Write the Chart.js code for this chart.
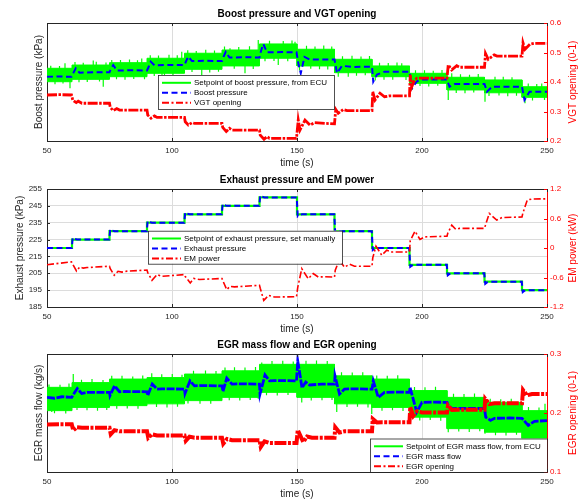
<!DOCTYPE html>
<html>
<head>
<meta charset="utf-8">
<title>Boost, exhaust and EGR loops</title>
<script src="https://cdn.jsdelivr.net/npm/chart.js@4.4.1/dist/chart.umd.min.js"></script>
<style>
  body { margin: 0; background: #fff; }
  #wrap { position: relative; width: 580px; height: 502px; background: #fff; }
  #wrap canvas { position: absolute; left: 0; }
</style>
</head>
<body>
<div id="wrap">
  <canvas id="boost" width="580" height="170" style="top:0"></canvas>
  <canvas id="exhaust" width="580" height="170" style="top:166px"></canvas>
  <canvas id="egr" width="580" height="170" style="top:331px"></canvas>
</div>
<script>
// setpoint steps, one value per interval between consecutive times
const stepTimes = [50, 60, 75, 90, 105, 120, 135, 150, 165, 180, 195, 210, 225, 240, 250];

// boost pressure loop (kPa) and VGT opening (0-1)
const boostSetLo = [160.2, 161.8, 163.6, 165.9, 168.6, 170.9, 176.1, 170.9, 166.3, 163.6, 159.1, 154.6, 152.7, 149.6];
const boostSetHi = [169.3, 171.5, 173.1, 176.1, 179.5, 181.7, 185.8, 182.2, 175.4, 170.9, 165.9, 163.2, 161.4, 156.8];
const boostSpikeT = [
  51.5, 53.2, 55.0, 56.4, 57.2, 59.2, 61.2, 62.8, 64.5, 66.1, 68.5, 69.7, 71.0, 72.5, 73.6,
  75.9, 77.8, 79.4, 81.2, 83.0, 84.7, 86.2, 87.9, 89.0, 91.3, 92.9, 94.6, 96.0, 97, 98.8,
  100.4, 102.1, 103.9, 106.3, 108.0, 109.7, 111.9, 113.5, 115.1, 117.0, 118.6, 121.0, 123.2,
  124.9, 126.7, 129.2, 131.0, 132.5, 134.5, 137.2, 139.0, 140.8, 142.5, 144.5, 146.3, 148.0,
  149.2, 151.0, 153.8, 155.5, 157.2, 159.0, 160.7, 162.3, 163.9, 166.5, 168.2, 170.5, 172.0,
  173.8, 175.6, 177.3, 179.0, 181.3, 183.0, 184.8, 186.5, 188.3, 190.0, 191.9, 193.6, 196,
  197.4, 199.2, 201.0, 202.7, 204.5, 206.3, 208.0, 210.5, 211.9, 213.7, 215.4, 217.2, 219.0,
  220.7, 222.5, 225.2, 226.8, 229.2, 230.8, 232.5, 234.3, 236.0, 237.8, 241.2, 242.5, 244.2,
  245.9, 247.9, 249.0,
];
const boostSpikeTip = [
  171.0, 158.5, 170.8, 158.9, 172.7, 155.7, 173.5, 159.8, 173.0, 160.0, 174.5, 173.8, 160.4, 156.8, 173.2,
  174.9, 161.8, 175.0, 161.5, 175.3, 162.0, 174.8, 176.0, 161.9, 178.2, 164.0, 178.0, 164.2, 162.5, 178.5,
  163.9, 178.1, 180.5, 181.5, 166.8, 181.0, 164.7, 181.8, 166.5, 181.4, 167.0, 184.0, 182.8,
  169.0, 183.8, 165.9, 184.3, 168.8, 188.5, 174.0, 188.0, 174.3, 171.5, 187.8, 174.0, 188.2,
  187.3, 167.8, 184.5, 168.9, 184.0, 168.7, 184.8, 168.5, 184.0, 163.5, 177.5, 163.6, 177.8,
  164.2, 177.3, 164.5, 177.6, 161.0, 173.0, 161.5, 172.8, 161.6, 173.2, 172.7, 161.3, 154.6,
  167.9, 157.3, 168.0, 157.0, 167.6, 157.4, 168.2, 147.8, 165.9, 152.5, 165.3, 152.3, 165.0,
  152.8, 165.5, 146.6, 150.5, 163.6, 150.8, 163.5, 150.4, 163.2, 150.7, 145.6, 158.9, 147.5,
  158.6, 159.0, 147.8,
];
const boostT = [50, 55, 59.8, 60.5, 61.5, 63, 69, 75, 75.6, 76.5, 78, 84, 90, 90.6, 91.5, 93, 99, 105, 105.6, 106.5, 108, 114, 120, 120.6, 121.5, 123, 129, 135, 135.6, 136.5, 138, 144, 149.8, 150.6, 151.5, 153, 155, 165, 166, 168, 172, 180, 180.5, 182, 185, 195, 196, 198, 200, 210, 211, 213, 225, 226, 228, 240, 241, 243, 250];
const boostKpa = [163.5, 163.8, 163.5, 166, 169.3, 166.3, 166.6, 166.6, 169, 171.5, 167.7, 168, 167.8, 170, 173.8, 171.3, 171.6, 171.5, 174, 177.2, 174.2, 174.4, 174.2, 177, 180.5, 176.6, 176.8, 176.6, 181, 185.8, 180.1, 180.3, 180.1, 172, 165.9, 177, 175.3, 175.3, 166, 171, 170.2, 170.4, 160.2, 165, 167, 167, 155.7, 160.5, 161.7, 161.7, 156.8, 158.6, 158.6, 153.4, 156.8, 156.8, 147.8, 153.4, 153.4];
const vgtT = [50, 55, 59.8, 60.3, 61, 61.7, 62.5, 64, 75, 75.3, 76.5, 77.9, 79, 90, 90.3, 91.6, 93, 94, 105, 105.3, 106.5, 108, 109, 120, 120.3, 121.7, 123, 124, 135, 135.3, 136.8, 138, 139, 149.8, 150.5, 151.2, 153.2, 155.2, 157, 165, 165.5, 166.5, 168.5, 170, 180, 180.3, 181.2, 183.2, 185, 187, 195, 195.3, 195.9, 197, 198, 210, 210.5, 211.9, 213.9, 215, 225, 225.4, 226.5, 228.9, 230, 240, 240.4, 241.2, 243.2, 245, 250];
const vgtOpening = [0.356, 0.357, 0.356, 0.339, 0.334, 0.330, 0.335, 0.328, 0.328, 0.314, 0.303, 0.310, 0.305, 0.305, 0.288, 0.277, 0.285, 0.280, 0.280, 0.265, 0.254, 0.262, 0.260, 0.260, 0.246, 0.232, 0.243, 0.237, 0.237, 0.220, 0.206, 0.215, 0.209, 0.209, 0.271, 0.237, 0.271, 0.254, 0.262, 0.258, 0.307, 0.294, 0.307, 0.303, 0.303, 0.367, 0.339, 0.362, 0.350, 0.353, 0.353, 0.424, 0.384, 0.407, 0.413, 0.413, 0.458, 0.441, 0.455, 0.450, 0.450, 0.497, 0.477, 0.492, 0.488, 0.488, 0.533, 0.511, 0.528, 0.531, 0.531];

// exhaust pressure loop (kPa) and EM power (kW)
const exhSet = [220, 225, 230, 235, 240, 245, 250, 240, 230, 220, 210, 205, 200, 195];
const exhT = [50, 59.9, 60.3, 61, 62, 74.9, 75.3, 76, 77, 89.9, 90.3, 91, 92, 104.9, 105.3, 106, 107, 119.9, 120.3, 121, 122, 134.9, 135.3, 136, 137, 149.9, 150.3, 151, 152, 164.9, 165.3, 166, 167, 179.9, 180.3, 181, 182, 194.9, 195.3, 196, 197, 209.9, 210.3, 211, 212, 224.9, 225.3, 226, 227, 239.9, 240.3, 241, 242, 250];
const exhKpa = [220, 220, 226.2, 225.4, 225, 225, 231.2, 230.4, 230, 230, 236.2, 235.4, 235, 235, 241.2, 240.4, 240, 240, 246.2, 245.4, 245, 245, 251.2, 250.4, 250, 250, 238.8, 239.6, 240, 240, 228.8, 229.6, 230, 230, 218.8, 219.6, 220, 220, 208.8, 209.6, 210, 210, 203.8, 204.6, 205, 205, 198.8, 199.6, 200, 200, 193.8, 194.6, 195, 195];
const emT = [50, 55, 59.8, 60.3, 61.8, 63.1, 64.5, 66, 75, 75.3, 76.9, 78.4, 80, 82, 90, 90.3, 92, 94, 96, 105, 105.3, 107.3, 108.7, 111, 120, 120.3, 121.9, 123.2, 125, 135, 135.3, 136.7, 138.7, 141, 149.8, 150.3, 151.9, 154.5, 156.5, 158.5, 161, 165, 165.3, 166.9, 169, 171, 173, 180, 180.3, 181.6, 183.9, 185.9, 188, 195, 195.3, 197.2, 199.2, 201, 210, 210.3, 211.9, 213.5, 215, 225, 225.3, 226.9, 229.9, 232, 240, 240.3, 242.1, 244, 250];
const emKw = [-0.34, -0.31, -0.283, -0.33, -0.467, -0.386, -0.41, -0.398, -0.371, -0.42, -0.555, -0.473, -0.49, -0.47, -0.45, -0.50, -0.657, -0.54, -0.576, -0.54, -0.58, -0.71, -0.62, -0.64, -0.62, -0.66, -0.847, -0.78, -0.79, -0.76, -0.82, -1.065, -0.963, -0.998, -0.99, -0.8, -0.42, -0.625, -0.52, -0.59, -0.585, -0.59, -0.45, -0.245, -0.39, -0.33, -0.37, -0.37, -0.2, 0.036, -0.147, -0.045, -0.08, -0.08, 0.15, 0.343, 0.173, 0.226, 0.24, 0.3, 0.465, 0.38, 0.40, 0.40, 0.45, 0.704, 0.567, 0.62, 0.63, 0.7, 0.976, 0.996, 1.0];

// EGR loop (kg/s) and EGR opening (0-1)
const egrSetLo = [0.0208, 0.0219, 0.0225, 0.0231, 0.0242, 0.0253, 0.0270, 0.0253, 0.0231, 0.0219, 0.0186, 0.0147, 0.0135, 0.0113];
const egrSetHi = [0.0287, 0.0303, 0.0315, 0.0320, 0.0332, 0.0343, 0.0365, 0.0365, 0.0326, 0.0315, 0.0276, 0.0253, 0.0236, 0.0208];
const egrSpikeT = [
  50.8, 51.9, 53.0, 55.2, 57.5, 58.8, 60.5, 62.0, 63.8, 66.0, 68.0, 70.2, 72.4, 73.9,
  75.9, 77.9, 80.0, 82.1, 84.3, 86.4, 88.3, 91.9, 93.8, 95.9, 98.0, 100.1, 102.2, 104.0,
  106.4, 108.6, 111.2, 113.4, 115.5, 117.6, 121.2, 122.9, 125.0, 127.1, 129.2, 131.3, 133.4,
  134.5, 135.9, 137.8, 140.0, 142.1, 144.3, 146.4, 148.5, 151.9, 153.6, 155.7, 157.8, 160.0,
  162.1, 164.0, 165.9, 167.8, 170.0, 172.1, 174.2, 176.3, 178.4, 179.9, 181.9, 184.0, 186.1,
  188.2, 190.3, 192.4, 195.1, 197.0, 199.1, 201.2, 203.3, 205.4, 207.5, 210.5, 212.6, 214.7,
  216.8, 218.9, 221.0, 223.1, 225.2, 227.3, 229.4, 231.5, 233.6, 235.7, 237.8, 241.2, 242.6,
  244.7, 246.8, 248.2, 249.2,
];
const egrSpikeTip = [
  0.0297, 0.0203, 0.0199, 0.0296, 0.0198, 0.0300, 0.0332, 0.0210, 0.0313, 0.0209, 0.0315, 0.0208, 0.0312, 0.0210,
  0.0326, 0.0214, 0.0326, 0.0215, 0.0324, 0.0214, 0.0327, 0.0335, 0.0220, 0.0331, 0.0219, 0.0332, 0.0221, 0.0330,
  0.0232, 0.0343, 0.0231, 0.0344, 0.0231, 0.0342, 0.0354, 0.0243, 0.0355, 0.0242, 0.0354, 0.0244, 0.0356,
  0.0248, 0.0371, 0.0260, 0.0376, 0.0259, 0.0377, 0.0261, 0.0375, 0.0236, 0.0377, 0.0242, 0.0378, 0.0243,
  0.0376, 0.0244, 0.0203, 0.0338, 0.0220, 0.0337, 0.0221, 0.0338, 0.0219, 0.0197, 0.0327, 0.0208, 0.0326,
  0.0209, 0.0328, 0.0207, 0.0175, 0.0288, 0.0175, 0.0287, 0.0176, 0.0289, 0.0174, 0.0135, 0.0265, 0.0137,
  0.0264, 0.0136, 0.0266, 0.0138, 0.0130, 0.0248, 0.0125, 0.0247, 0.0124, 0.0248, 0.0126, 0.0108, 0.0220,
  0.0103, 0.0219, 0.0104, 0.0231,
];
const egrFlowT = [50, 53, 56, 59.9, 60.5, 62.1, 63.9, 66, 75, 75.2, 77, 79, 81, 90, 90.3, 92.1, 94, 96, 105, 105.2, 107.2, 109, 111, 120, 120.4, 121.9, 124, 126, 135, 135.2, 137.2, 139, 141, 149.8, 150.3, 151, 152, 153.5, 155, 160, 165, 165.2, 167, 169, 172, 180, 180.5, 182.5, 185, 190, 195, 195.2, 197.9, 200, 205, 210, 210.5, 212, 218, 225, 225.5, 227.4, 229, 235, 240, 242.5, 245, 250];
const egrFlow = [0.0253, 0.0250, 0.0255, 0.0253, 0.0262, 0.0283, 0.0266, 0.0270, 0.0270, 0.0259, 0.0292, 0.0272, 0.0273, 0.0272, 0.0259, 0.0298, 0.0281, 0.0282, 0.0281, 0.0266, 0.0309, 0.0292, 0.0293, 0.0292, 0.0273, 0.0318, 0.0298, 0.0299, 0.0298, 0.0264, 0.0329, 0.0309, 0.0310, 0.0309, 0.0376, 0.0340, 0.0285, 0.0305, 0.0295, 0.0298, 0.0298, 0.0326, 0.0264, 0.0281, 0.0282, 0.0281, 0.0309, 0.0253, 0.0270, 0.0271, 0.0270, 0.0287, 0.0203, 0.0236, 0.0237, 0.0236, 0.0225, 0.0215, 0.0216, 0.0215, 0.0186, 0.0175, 0.0182, 0.0183, 0.0182, 0.0158, 0.0172, 0.0174];
const egrOpT = [50, 55, 59.9, 60.5, 62, 64, 75, 75.5, 77, 79, 90, 90.5, 92, 94, 105, 105.5, 107, 109, 120, 120.5, 122, 124, 135, 135.5, 137, 139, 149.8, 150.3, 152.5, 154, 156, 165, 165.3, 167, 169, 180, 180.3, 182, 184, 195, 195.3, 196.5, 198, 200, 210, 210.4, 212, 214, 225, 225.3, 227, 229, 240, 240.4, 242, 244, 250];
const egrOpening = [0.1807, 0.181, 0.181, 0.1706, 0.176, 0.175, 0.175, 0.164, 0.171, 0.169, 0.169, 0.158, 0.164, 0.162, 0.162, 0.153, 0.160, 0.158, 0.158, 0.148, 0.156, 0.154, 0.154, 0.1425, 0.152, 0.149, 0.149, 0.171, 0.151, 0.160, 0.158, 0.158, 0.176, 0.167, 0.169, 0.169, 0.190, 0.184, 0.1845, 0.1845, 0.210, 0.195, 0.203, 0.201, 0.201, 0.2126, 0.205, 0.2053, 0.2053, 0.224, 0.215, 0.2164, 0.2164, 0.239, 0.230, 0.232, 0.232];

Chart.defaults.font.family = '"Liberation Sans", Arial, Helvetica, sans-serif';
Chart.defaults.font.size = 8;
Chart.defaults.color = '#262626';

const INK = '#262626';
const GRID = '#dcdcdc';
const GREEN = '#00ff00';
const BLUE = '#0000ff';
const RED = '#ff0000';
const DASH = [6, 3.5];
const DASH_DOT = [7, 2.5, 2, 2.5];

const xy = (ts, vs) => ts.map((t, i) => ({ x: t, y: vs[i] }));
const stepLine = (vals) => vals.flatMap((v, i) => [{ x: stepTimes[i], y: v }, { x: stepTimes[i + 1], y: v }]);
const midAt = (t, lo, hi) => {
  let i = stepTimes.findIndex((s, k) => t >= s && t < stepTimes[k + 1]);
  if (i < 0) i = lo.length - 1;
  return (lo[i] + hi[i]) / 2;
};
const spikeLine = (ts, tips, lo, hi) =>
  ts.flatMap((t, i) => [{ x: t, y: midAt(t, lo, hi) }, { x: t, y: tips[i] }, { x: t, y: null }]);

// noisy ECU setpoint: envelope band plus the spikes sticking out of it
const setpointBand = (lo, hi, spikeT, spikeTip) => [
  { data: spikeLine(spikeT, spikeTip, lo, hi), borderColor: GREEN, borderWidth: 1.2, spanGaps: false, yAxisID: 'y' },
  { data: stepLine(hi), borderColor: GREEN, borderWidth: 1, backgroundColor: GREEN, fill: '+1', yAxisID: 'y' },
  { data: stepLine(lo), borderColor: GREEN, borderWidth: 1, yAxisID: 'y' },
];

const axesBox = (spec) => ({
  id: 'axesBox',
  afterDatasetsDraw(chart) {
    const { ctx, chartArea: a, scales } = chart;
    const seg = (x0, y0, x1, y1) => { ctx.beginPath(); ctx.moveTo(x0, y0); ctx.lineTo(x1, y1); ctx.stroke(); };
    ctx.save();
    ctx.lineWidth = 1;
    ctx.strokeStyle = INK;
    const top = Math.round(a.top) + 0.5;
    seg(a.left, top, a.right, top);
    scales.x.ticks.forEach((t) => {
      const px = Math.round(scales.x.getPixelForValue(t.value)) + 0.5;
      seg(px, a.bottom, px, a.bottom - 3);
      seg(px, a.top, px, a.top + 3);
    });
    if (scales.y.options.ticks.display) {
      scales.y.ticks.forEach((t) => {
        const py = Math.round(scales.y.getPixelForValue(t.value)) + 0.5;
        seg(a.left, py, a.left + 3, py);
      });
    }
    ctx.strokeStyle = RED;
    scales.y1.ticks.forEach((t) => {
      const py = Math.round(scales.y1.getPixelForValue(t.value)) + 0.5;
      seg(a.right, py, a.right - 3, py);
    });
    ctx.restore();
  },
  afterDraw(chart) {
    const { ctx, chartArea: a } = chart;
    const lg = spec.legend;
    ctx.save();
    ctx.fillStyle = '#fff';
    ctx.fillRect(lg.left, lg.top, lg.width, lg.height);
    ctx.strokeStyle = INK;
    ctx.lineWidth = 0.8;
    ctx.strokeRect(lg.left + 0.5, lg.top + 0.5, lg.width, lg.height);
    ctx.font = '8px "Liberation Sans", Arial, sans-serif';
    ctx.textBaseline = 'middle';
    lg.rows.forEach((r, i) => {
      const y = lg.top + 7.8 + i * 10;
      ctx.strokeStyle = r.color;
      ctx.lineWidth = 2;
      ctx.setLineDash(r.dash);
      ctx.beginPath();
      ctx.moveTo(lg.left + 4, y);
      ctx.lineTo(lg.left + 33, y);
      ctx.stroke();
      ctx.setLineDash([]);
      ctx.fillStyle = '#000';
      ctx.fillText(r.text, lg.left + 36, y);
    });
    // right-hand axis label, reading upwards
    ctx.translate(573, (a.top + a.bottom) / 2);
    ctx.rotate(-Math.PI / 2);
    ctx.font = '10px "Liberation Sans", Arial, sans-serif';
    ctx.fillStyle = RED;
    ctx.textAlign = 'center';
    ctx.fillText(spec.rightTitle, 0, 0);
    ctx.restore();
  },
});

const makePanel = (id, spec) => new Chart(document.getElementById(id), {
  type: 'line',
  data: { datasets: spec.datasets },
  options: {
    responsive: false,
    animation: false,
    devicePixelRatio: 1,
    events: [],
    elements: { point: { radius: 0 }, line: { tension: 0, borderCapStyle: 'butt' } },
    layout: { padding: 0 },
    plugins: {
      legend: { display: false },
      tooltip: { enabled: false },
      title: {
        display: true,
        text: spec.title,
        fullSize: false,
        color: '#000',
        font: { size: 10, weight: 'bold' },
        padding: { top: 8, bottom: 3 },
      },
    },
    scales: {
      x: {
        type: 'linear',
        min: 50,
        max: 250,
        ticks: { stepSize: 50, padding: 5, maxRotation: 0, autoSkip: false, color: INK },
        grid: { color: GRID, drawTicks: false },
        border: { color: INK },
        title: { display: true, text: 'time (s)', color: INK, font: { size: 10 }, padding: { top: 0, bottom: 1 } },
        afterFit: (s) => { s.height = 29; },
      },
      y: {
        position: 'left',
        min: spec.left.min,
        max: spec.left.max,
        ticks: { display: spec.left.showTicks, stepSize: spec.left.step, padding: 5, color: INK },
        grid: { display: spec.left.showTicks, color: GRID, drawTicks: false },
        border: { display: true, color: INK },
        title: { display: true, text: spec.left.title, color: INK, font: { size: 10 }, padding: { top: spec.left.titlePad, bottom: 0 } },
        afterFit: (s) => { s.width = 47; },
      },
      y1: {
        position: 'right',
        min: spec.right.min,
        max: spec.right.max,
        ticks: { stepSize: spec.right.step, padding: 3, color: RED },
        grid: { drawOnChartArea: false, drawTicks: false },
        border: { display: true, color: RED },
        afterFit: (s) => { s.width = 33; },
      },
    },
  },
  plugins: [axesBox(spec)],
});

makePanel('boost', {
  title: 'Boost pressure and VGT opening',
  rightTitle: 'VGT opening (0-1)',
  left: { min: 120, max: 200, showTicks: false, title: 'Boost pressure (kPa)', titlePad: 33 },
  right: { min: 0.2, max: 0.6, step: 0.1 },
  datasets: [
    { data: xy(vgtT, vgtOpening), borderColor: RED, borderWidth: 2.8, borderDash: [10, 1.5, 2.5, 1.5], yAxisID: 'y1' },
    { data: xy(boostT, boostKpa), borderColor: BLUE, borderWidth: 2, borderDash: DASH, yAxisID: 'y' },
    ...setpointBand(boostSetLo, boostSetHi, boostSpikeT, boostSpikeTip),
  ],
  legend: {
    left: 158, top: 75, width: 176, height: 34,
    rows: [
      { text: 'Setpoint of boost pressure, from ECU', color: GREEN, dash: [] },
      { text: 'Boost pressure', color: BLUE, dash: DASH },
      { text: 'VGT opening', color: RED, dash: DASH_DOT },
    ],
  },
});

makePanel('exhaust', {
  title: 'Exhaust pressure and EM power',
  rightTitle: 'EM power (kW)',
  left: { min: 185, max: 255, step: 10, showTicks: true, title: 'Exhaust pressure (kPa)', titlePad: 14.5 },
  right: { min: -1.2, max: 1.2, step: 0.6 },
  datasets: [
    { data: xy(emT, emKw), borderColor: RED, borderWidth: 1.6, borderDash: DASH_DOT, yAxisID: 'y1' },
    { data: xy(exhT, exhKpa), borderColor: BLUE, borderWidth: 2, borderDash: DASH, yAxisID: 'y' },
    { data: stepLine(exhSet), borderColor: GREEN, borderWidth: 2.2, yAxisID: 'y' },
  ],
  legend: {
    left: 148, top: 64.7, width: 194, height: 33,
    rows: [
      { text: 'Setpoint of exhaust pressure, set manually', color: GREEN, dash: [] },
      { text: 'Exhaust pressure', color: BLUE, dash: DASH },
      { text: 'EM power', color: RED, dash: DASH_DOT },
    ],
  },
});

makePanel('egr', {
  title: 'EGR mass flow and EGR opening',
  rightTitle: 'EGR opening (0-1)',
  left: { min: 0, max: 0.04, showTicks: false, title: 'EGR mass flow (kg/s)', titlePad: 33 },
  right: { min: 0.1, max: 0.3, step: 0.1 },
  datasets: [
    { data: xy(egrOpT, egrOpening), borderColor: RED, borderWidth: 4, borderDash: [12, 1.5, 3, 1.5], yAxisID: 'y1' },
    { data: xy(egrFlowT, egrFlow), borderColor: BLUE, borderWidth: 2.8, borderDash: [8, 1.5], yAxisID: 'y' },
    ...setpointBand(egrSetLo, egrSetHi, egrSpikeT, egrSpikeTip),
  ],
  legend: {
    left: 370, top: 107.5, width: 177, height: 33.5,
    rows: [
      { text: 'Setpoint of EGR mass flow, from ECU', color: GREEN, dash: [] },
      { text: 'EGR mass flow', color: BLUE, dash: DASH },
      { text: 'EGR opening', color: RED, dash: DASH_DOT },
    ],
  },
});
</script>
</body>
</html>
